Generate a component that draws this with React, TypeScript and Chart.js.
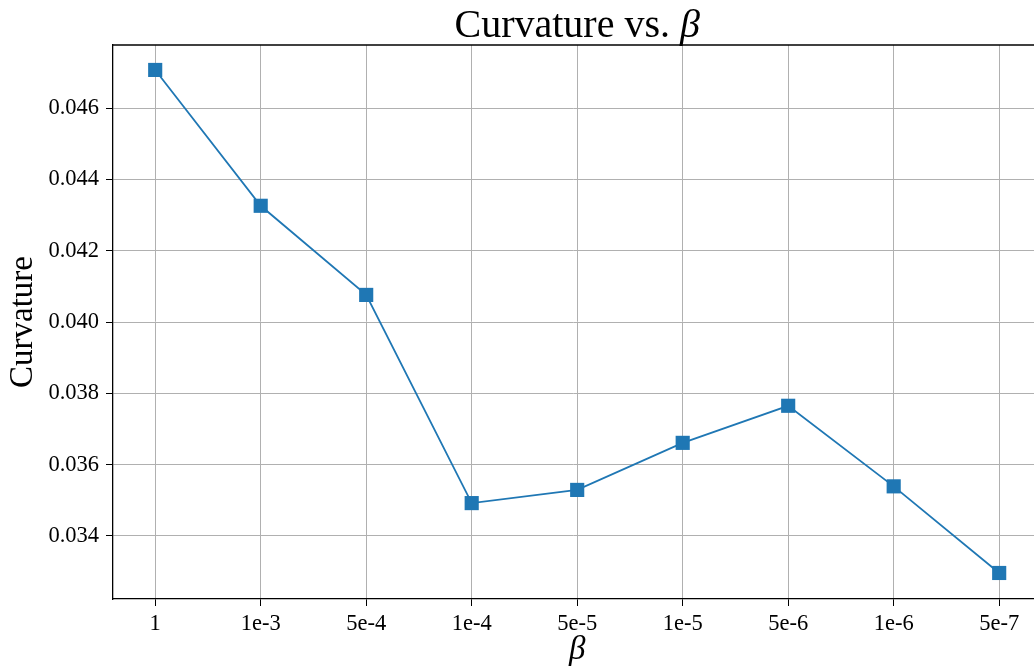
import React, { useEffect, useRef } from "react";
import { Chart, registerables } from "chart.js";

Chart.register(...registerables);

const categories = ["1", "1e-3", "5e-4", "1e-4", "5e-5", "1e-5", "5e-6", "1e-6", "5e-7"];
const curvature = [0.04707, 0.04326, 0.04076, 0.03492, 0.03529, 0.03661, 0.03765, 0.03539, 0.03296];
const yTicks = [0.034, 0.036, 0.038, 0.04, 0.042, 0.044, 0.046];
const titleMain = "Curvature vs. ";
const titleSym = "β";
const xLabel = "β";
const yLabel = "Curvature";

const FONT = "'Liberation Serif', 'Times New Roman', serif";

const framePlugin = {
  id: "frameAndTitle",
  afterDraw(chart: any) {
    const { ctx, chartArea } = chart;
    const xs = chart.scales.x;
    ctx.save();
    ctx.strokeStyle = "#000";
    ctx.lineWidth = 1.3;
    ctx.beginPath();
    ctx.moveTo(chartArea.left, chartArea.top);
    ctx.lineTo(chart.width, chartArea.top);
    ctx.stroke();
    // x tick labels
    ctx.fillStyle = "#000";
    ctx.font = `22.5px ${FONT}`;
    ctx.textAlign = "center";
    ctx.textBaseline = "alphabetic";
    categories.forEach((c, i) => {
      ctx.fillText(c, xs.getPixelForValue(i), chartArea.bottom + 31);
    });
    // full (virtual) plot extent: -0.4 .. n-1+0.4
    const fullRight = xs.getPixelForValue(categories.length - 1 + 0.4);
    const cx = (chartArea.left + fullRight) / 2;
    // x label
    ctx.font = `italic 33px ${FONT}`;
    ctx.fillText(xLabel, cx, 659);
    // title
    const fMain = `40px ${FONT}`;
    const fSym = `italic 40px ${FONT}`;
    ctx.font = fMain;
    const w1 = ctx.measureText(titleMain).width;
    ctx.font = fSym;
    const w2 = ctx.measureText(titleSym).width;
    const x0 = cx - (w1 + w2) / 2;
    const yb = 37;
    ctx.textAlign = "left";
    ctx.font = fMain;
    ctx.fillText(titleMain, x0, yb);
    ctx.font = fSym;
    ctx.fillText(titleSym, x0 + w1, yb);
    ctx.restore();
  },
};

export default function App() {
  const ref = useRef<HTMLCanvasElement>(null);
  useEffect(() => {
    document.body.style.margin = "0";
    const chart = new Chart(ref.current!, {
      type: "line",
      data: {
        datasets: [
          {
            data: curvature.map((v, i) => ({ x: i, y: v })),
            borderColor: "#1f77b4",
            backgroundColor: "#1f77b4",
            borderWidth: 1.8,
            pointStyle: "rect",
            pointRadius: 10,
            pointBorderWidth: 0,
            pointBackgroundColor: "#1f77b4",
            tension: 0,
          },
        ],
      },
      options: {
        responsive: false,
        animation: false,
        layout: { autoPadding: false, padding: { top: 45, right: 0, left: 0, bottom: 0 } },
        plugins: { legend: { display: false }, tooltip: { enabled: false }, title: { display: false } },
        scales: {
          x: {
            type: "linear",
            min: -0.4,
            max: 8.33,
            afterBuildTicks: (s: any) => {
              s.ticks = categories.map((_, i) => ({ value: i }));
            },
            afterFit: (s: any) => {
              s.height = 70;
              s.paddingLeft = 0;
              s.paddingRight = 0;
            },
            ticks: {
              display: false,
            },
            grid: { color: "#b0b0b0", lineWidth: 1, tickColor: "#000", tickLength: 7, drawTicks: true },
            border: { color: "#000", width: 1.3 },
            title: { display: false },
          },
          y: {
            type: "linear",
            min: 0.03223,
            max: 0.04777,
            afterBuildTicks: (s: any) => {
              s.ticks = yTicks.map((v) => ({ value: v }));
            },
            afterFit: (s: any) => {
              s.width = 113;
              s.paddingTop = 0;
              s.paddingBottom = 0;
            },
            ticks: {
              callback: (v: any) => Number(v).toFixed(3),
              font: { family: FONT, size: 22.5 },
              color: "#000",
              padding: 7,
            },
            grid: { color: "#b0b0b0", lineWidth: 1, tickColor: "#000", tickLength: 7, drawTicks: true },
            border: { color: "#000", width: 1.3 },
            title: {
              display: true,
              text: yLabel,
              font: { family: FONT, size: 33 },
              color: "#000",
              padding: { top: 4, bottom: 0 },
            },
          },
        },
      },
      plugins: [framePlugin],
    });
    return () => chart.destroy();
  }, []);
  return <canvas ref={ref} width={1034} height={669} style={{ display: "block" }} />;
}
